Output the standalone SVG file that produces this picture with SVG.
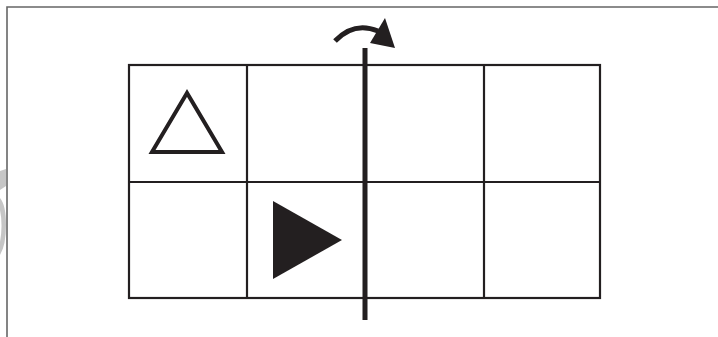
<svg xmlns="http://www.w3.org/2000/svg" width="718" height="337" viewBox="0 0 718 337">
<style>
.frame{stroke:#666;stroke-width:1.6;fill:none}
.grid{stroke:#231f20;stroke-width:2.2;fill:none}
.axis{stroke:#231f20;stroke-width:5;fill:none}
</style>
<rect width="718" height="337" fill="#fff"/>
<g id="watermark" fill="#c6c6c6">
<path d="M0,171 L6,169 L6,186 L0,190 Z"/>
<path d="M0,198 Q6,205 6,225 Q6,245 0,255 L0,242 Q3,225 0,210 Z"/>
</g>
<g id="frame">
<path class="frame" d="M7,337 L7,7 L718,7"/>
</g>
<g id="grid">
<rect class="grid" x="129" y="65" width="471" height="233"/>
<line class="grid" x1="129" y1="182" x2="600" y2="182"/>
<line class="grid" x1="247" y1="65" x2="247" y2="298"/>
<line class="grid" x1="484" y1="65" x2="484" y2="298"/>
</g>
<g id="outline-triangle">
<polygon points="187,93 152,152 222,152" fill="none" stroke="#231f20" stroke-width="4" stroke-linejoin="miter"/>
</g>
<g id="filled-triangle">
<polygon points="273,201 273,279 342,240" fill="#231f20"/>
</g>
<g id="connectors">
<line class="axis" x1="365" y1="48" x2="365" y2="320"/>
<path class="axis" stroke-width="5.5" d="M335,41 Q354,21 378,31"/>
<polygon points="385,18 370,43 395,48" fill="#231f20"/>
</g>
</svg>
